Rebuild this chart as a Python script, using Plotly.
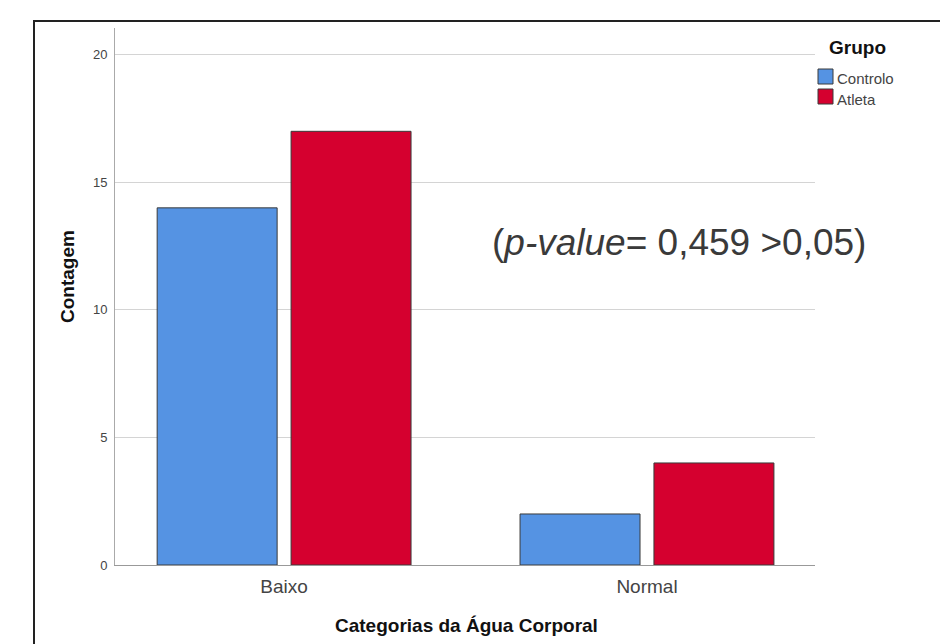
import plotly.graph_objects as go

categories = ["Baixo", "Normal"]
controlo = [14, 2]
atleta = [17, 4]
series_names = ["Controlo", "Atleta"]
series_colors = ["#5593E3", "#D5002F"]
y_ticks = [0, 5, 10, 15, 20]

# page offset (body margin) and window-pixel plot box
OFF = 8
L, T = 115, 28           # plot-area left/top in window pixels
pw, ph = 700, 537        # plot-area size
W, H = 948 - OFF, 644 - OFF
BASE = T + ph            # y pixel of value 0


def px(x):
    return (x - L) / pw


def py(y):
    return (BASE - y) / ph


fig = go.Figure()
for name, vals, col in zip(series_names, [controlo, atleta], series_colors):
    fig.add_trace(go.Bar(name=name, x=categories, y=vals, showlegend=False,
                         marker=dict(color=col, line=dict(color="#3a3a3a", width=1))))

fig.update_layout(
    width=W, height=H,
    margin=dict(l=L - OFF, r=W - (L - OFF) - pw, t=T - OFF, b=H - (T - OFF) - ph),
    paper_bgcolor="white", plot_bgcolor="white",
    barmode="group", bargap=0.262, bargroupgap=0.104,
    font=dict(family="Liberation Sans, Arial, sans-serif", color="#444"),
    showlegend=False,
    xaxis=dict(
        type="category", range=[-0.466, 1.463],
        showline=True, linecolor="#999", linewidth=1,
        ticks="outside", ticklen=4, tickcolor="rgba(0,0,0,0)",
        tickfont=dict(size=19, color="#444"),
        showgrid=False, fixedrange=True,
    ),
    yaxis=dict(
        range=[0, 21.05], tickvals=y_ticks, ticktext=[str(v) for v in y_ticks],
        showline=True, linecolor="#aaa", linewidth=1,
        ticks="outside", ticklen=4, tickcolor="rgba(0,0,0,0)",
        tickfont=dict(size=13, color="#444"),
        showgrid=True, gridcolor="#d4d4d4", gridwidth=1,
        zeroline=False,
    ),
)

# y axis title
fig.add_annotation(
    text="<b>Contagem</b>", xref="paper", yref="paper",
    x=px(67), y=py(277), textangle=-90,
    showarrow=False, font=dict(size=19, color="#111"),
    xanchor="center", yanchor="middle",
)
# x axis title
fig.add_annotation(
    text="<b>Categorias da Água Corporal</b>", xref="paper", yref="paper",
    x=px(466), y=py(625),
    showarrow=False, font=dict(size=19, color="#111"),
    xanchor="center", yanchor="middle",
)
# p-value annotation
fig.add_annotation(
    text="(<i>p-value</i>= 0,459 >0,05)", xref="paper", yref="paper",
    x=px(679), y=py(243),
    showarrow=False, font=dict(size=37, color="#3a3a3a"),
    xanchor="center", yanchor="middle",
)

# legend drawn manually
fig.add_annotation(
    text="<b>Grupo</b>", xref="paper", yref="paper",
    x=px(827), y=py(47), showarrow=False,
    font=dict(size=19, color="#111"), xanchor="left", yanchor="middle",
)
legend_rows = [(69, 84, 79), (89, 104, 99)]
for (y0, y1, yc), name, col in zip(legend_rows, series_names, series_colors):
    fig.add_shape(type="rect", xref="paper", yref="paper",
                  x0=px(818), x1=px(833), y0=py(y0), y1=py(y1),
                  fillcolor=col, line=dict(color="#3a3a3a", width=1))
    fig.add_annotation(
        text=name, xref="paper", yref="paper",
        x=px(835), y=py(yc), showarrow=False,
        font=dict(size=15, color="#444"), xanchor="left", yanchor="middle",
    )

# outer frame
fig.add_shape(type="line", xref="paper", yref="paper",
              x0=px(34), x1=px(34), y0=py(20), y1=py(700),
              line=dict(color="#222", width=2))
fig.add_shape(type="line", xref="paper", yref="paper",
              x0=px(33), x1=px(1000), y0=py(21), y1=py(21),
              line=dict(color="#222", width=2))

fig.write_html("out.html")
